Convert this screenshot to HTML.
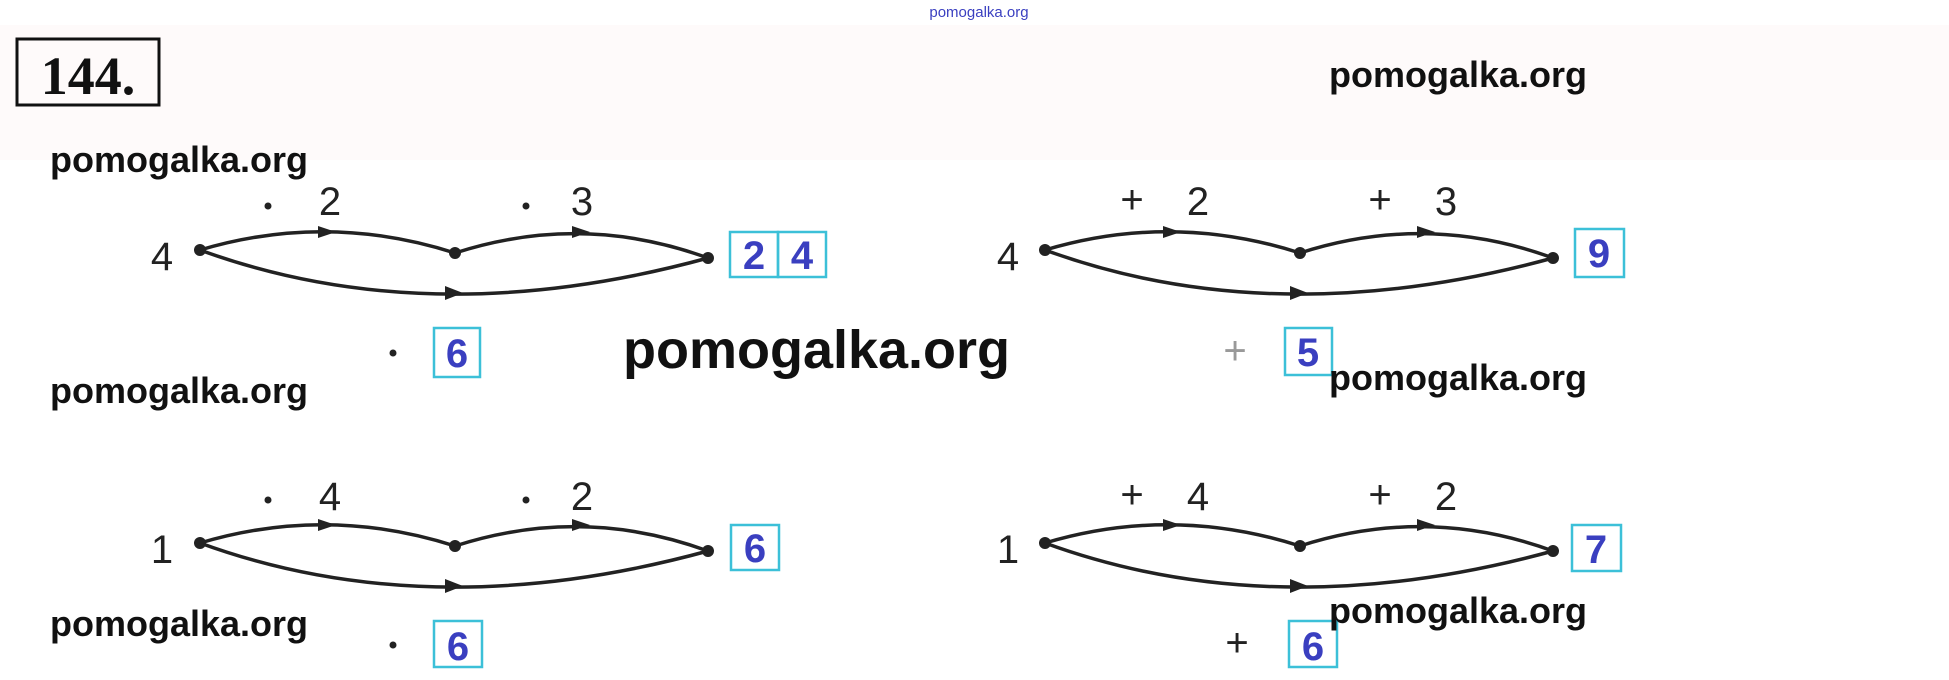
<!DOCTYPE html>
<html><head><meta charset="utf-8"><style>
body{margin:0;background:#fff;}
svg{display:block}
</style></head><body>
<svg width="1949" height="680" viewBox="0 0 1949 680" xmlns="http://www.w3.org/2000/svg">
<defs>
<g id="dg">
  <path d="M0,0 Q127,-38 255,3" fill="none" stroke="#222" stroke-width="3.5"/>
  <path d="M255,3 Q382,-38 508,8" fill="none" stroke="#222" stroke-width="3.5"/>
  <path d="M0,0 Q230,84 508,8" fill="none" stroke="#222" stroke-width="3.5"/>
  <path d="M118,-24 L136,-18 L118,-12 Z" fill="#222"/>
  <path d="M372,-24 L390,-18 L372,-12 Z" fill="#222"/>
  <path d="M245,36 L263,43 L245,50 Z" fill="#222"/>
  <circle cx="0" cy="0" r="6" fill="#222"/>
  <circle cx="255" cy="3" r="6" fill="#222"/>
  <circle cx="508" cy="8" r="6" fill="#222"/>
</g>
</defs>
<rect x="0" y="25" width="1949" height="135" fill="#fefafa"/>
<text x="979" y="17" font-family="Liberation Sans, sans-serif" font-size="15" fill="#3a3fc0" text-anchor="middle">pomogalka.org</text>
<rect x="17" y="39" width="142" height="66" fill="none" stroke="#111" stroke-width="3"/>
<text x="88" y="94" font-family="Liberation Serif, serif" font-weight="bold" font-size="54" text-anchor="middle" fill="#111">144.</text>

<g fill="#222">
<circle cx="268" cy="206" r="3.5"/><circle cx="526" cy="206" r="3.5"/>
<circle cx="393" cy="353" r="3.5"/>
<circle cx="268" cy="500" r="3.5"/><circle cx="526" cy="500" r="3.5"/>
<circle cx="393" cy="645" r="3.5"/>
</g>

<g font-family="Liberation Sans, sans-serif" font-size="40" fill="#222">
<use href="#dg" x="200" y="250"/>
<text x="162" y="270" text-anchor="middle">4</text>
<text x="330" y="215" text-anchor="middle">2</text>
<text x="582" y="215" text-anchor="middle">3</text>
<use href="#dg" x="1045" y="250"/>
<text x="1008" y="270" text-anchor="middle">4</text>
<text x="1132" y="213" text-anchor="middle">+</text><text x="1198" y="215" text-anchor="middle">2</text>
<text x="1380" y="213" text-anchor="middle">+</text><text x="1446" y="215" text-anchor="middle">3</text>
<text x="1235" y="364" text-anchor="middle" fill="#999">+</text>
<use href="#dg" x="200" y="543"/>
<text x="162" y="563" text-anchor="middle">1</text>
<text x="330" y="510" text-anchor="middle">4</text>
<text x="582" y="510" text-anchor="middle">2</text>
<use href="#dg" x="1045" y="543"/>
<text x="1008" y="563" text-anchor="middle">1</text>
<text x="1132" y="508" text-anchor="middle">+</text><text x="1198" y="510" text-anchor="middle">4</text>
<text x="1380" y="508" text-anchor="middle">+</text><text x="1446" y="510" text-anchor="middle">2</text>
<text x="1237" y="656" text-anchor="middle">+</text>
</g>

<g fill="none" stroke="#3cc0d8" stroke-width="2.5">
<rect x="730" y="232" width="48" height="45"/><rect x="778" y="232" width="48" height="45"/>
<rect x="434" y="328" width="46" height="49"/>
<rect x="1575" y="229" width="49" height="48"/>
<rect x="1285" y="328" width="47" height="47"/>
<rect x="731" y="525" width="48" height="45"/>
<rect x="434" y="621" width="48" height="46"/>
<rect x="1572" y="525" width="49" height="46"/>
<rect x="1289" y="621" width="48" height="46"/>
</g>
<g font-family="Liberation Sans, sans-serif" font-weight="bold" font-size="40" fill="#3a3fc0" text-anchor="middle">
<text x="754" y="269">2</text><text x="802" y="269">4</text>
<text x="457" y="367">6</text>
<text x="1599" y="267">9</text>
<text x="1308" y="366">5</text>
<text x="755" y="562">6</text>
<text x="458" y="660">6</text>
<text x="1596" y="563">7</text>
<text x="1313" y="660">6</text>
</g>

<g font-family="Liberation Sans, sans-serif" font-weight="bold" font-size="36" fill="#111">
<text x="50" y="172">pomogalka.org</text>
<text x="50" y="403">pomogalka.org</text>
<text x="50" y="636">pomogalka.org</text>
<text x="1329" y="87">pomogalka.org</text>
<text x="1329" y="390">pomogalka.org</text>
<text x="1329" y="623">pomogalka.org</text>
<text x="623" y="368" font-size="54">pomogalka.org</text>
</g>
</svg>
</body></html>
